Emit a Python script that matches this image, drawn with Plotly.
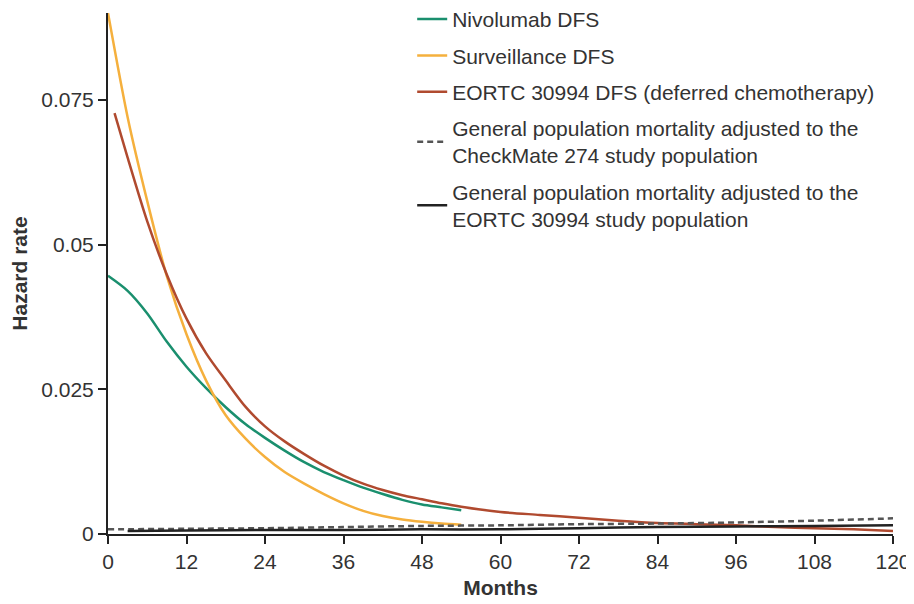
import plotly.graph_objects as go

# ---- data ----
niv_months = [0, 3, 6, 9, 12, 15, 18, 21, 24, 27, 30, 33, 36, 39, 42, 45, 48, 51, 54]
niv_hazard = [0.0446, 0.0420, 0.0381, 0.0332, 0.0289, 0.0252, 0.0219, 0.0190, 0.0166, 0.0144,
              0.0124, 0.0107, 0.0093, 0.0080, 0.0069, 0.0059, 0.0051, 0.0046, 0.0041]

surv_months = [0, 3, 6, 9, 12, 15, 18, 21, 24, 27, 30, 33, 36, 39, 42, 45, 48, 51, 54]
surv_hazard = [0.0900, 0.0720, 0.0575, 0.0445, 0.0345, 0.0265, 0.0205, 0.0165, 0.0133, 0.0107,
               0.0087, 0.0069, 0.0053, 0.0040, 0.0031, 0.0025, 0.0021, 0.0018, 0.0016]

eortc_months = [1, 3, 6, 9, 12, 15, 18, 21, 24, 27, 30, 33, 36, 39, 42, 45, 48, 51, 54,
                60, 66, 72, 78, 84, 90, 96, 102, 108, 114, 120]
eortc_hazard = [0.0727, 0.0650, 0.0540, 0.0448, 0.0372, 0.0312, 0.0265, 0.0220, 0.0186, 0.0160,
                0.0138, 0.0118, 0.0101, 0.0087, 0.0076, 0.0067, 0.0060, 0.0053, 0.0047,
                0.0038, 0.0033, 0.0028, 0.0023, 0.0019, 0.0017, 0.0015, 0.0012, 0.0010, 0.0008, 0.0005]

gp_cm_months = [0, 12, 24, 36, 48, 60, 72, 84, 96, 108, 120]
gp_cm_hazard = [0.0008, 0.0009, 0.0010, 0.0012, 0.0014, 0.0015, 0.0017, 0.0018, 0.0020, 0.0023, 0.0027]

gp_eo_months = [3, 12, 24, 36, 48, 60, 72, 84, 96, 108, 120]
gp_eo_hazard = [0.0005, 0.0006, 0.0007, 0.0007, 0.0008, 0.0008, 0.0010, 0.0012, 0.0013, 0.0014, 0.0015]

x_ticks = [0, 12, 24, 36, 48, 60, 72, 84, 96, 108, 120]
y_ticks = [0, 0.025, 0.05, 0.075]
y_tick_labels = ["0", "0.025", "0.05", "0.075"]

# ---- figure ----
FONT = "Liberation Sans, Arial, sans-serif"
TXT = "#333333"
FS = 21

fig = go.Figure()
series = [
    (niv_months, niv_hazard, "Nivolumab DFS", "#1a8f6e", "solid"),
    (surv_months, surv_hazard, "Surveillance DFS", "#f5b03d", "solid"),
    (eortc_months, eortc_hazard, "EORTC 30994 DFS (deferred chemotherapy)", "#b04a2f", "solid"),
    (gp_cm_months, gp_cm_hazard, "General population mortality adjusted to the<br>CheckMate 274 study population", "#555555", "6px,4px"),
    (gp_eo_months, gp_eo_hazard, "General population mortality adjusted to the<br>EORTC 30994 study population", "#222222", "solid"),
]
for i, (xs, ys, name, col, dash) in enumerate(series):
    fig.add_trace(go.Scatter(
        x=xs, y=ys, name=name, mode="lines",
        line=dict(color=col, width=2.5, dash=dash, shape="spline", smoothing=0.8),
        legendgroup=f"g{i}",
    ))

# page body has an 8px margin, so the figure is sized to end at the window edge
fig.update_layout(
    width=906, height=596,
    margin=dict(l=100, r=21, t=5, b=70, autoexpand=False),
    paper_bgcolor="white", plot_bgcolor="white",
    font=dict(family=FONT, size=FS, color=TXT),
    showlegend=True,
    legend=dict(
        x=0.3875, y=1.027, xanchor="left", yanchor="top",
        bgcolor="rgba(0,0,0,0)", font=dict(size=FS, color=TXT),
        tracegroupgap=6, itemwidth=30,
    ),
    xaxis=dict(
        range=[0, 120], tickmode="array", tickvals=x_ticks,
        showgrid=False, zeroline=False,
        showline=True, linecolor="#222222", linewidth=2,
        ticks="outside", ticklen=8, tickwidth=2, tickcolor="#222222",
        tickfont=dict(size=FS, color=TXT),
        title=dict(text="<b>Months</b>", font=dict(size=FS, color=TXT), standoff=8),
    ),
    yaxis=dict(
        range=[0, 0.09], tickmode="array", tickvals=y_ticks, ticktext=y_tick_labels,
        showgrid=False, zeroline=False,
        showline=True, linecolor="#222222", linewidth=2,
        ticks="outside", ticklen=8, tickwidth=2, tickcolor="#222222",
        tickfont=dict(size=FS, color=TXT),
        title=dict(text="<b>Hazard rate</b>", font=dict(size=FS, color=TXT), standoff=12),
    ),
)

fig.write_html("out.html")
